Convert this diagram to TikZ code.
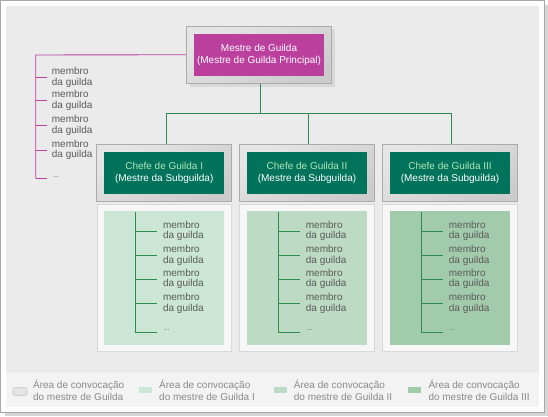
\documentclass[tikz,border=0pt]{standalone}
\usepackage{fontspec}
\setmainfont{Liberation Sans}
\usetikzlibrary{calc}
\definecolor{frameC}{HTML}{A8A8A8}
\definecolor{frameSh}{HTML}{D6D6D6}
\definecolor{bgC}{HTML}{EBEBEB}
\definecolor{legC}{HTML}{F3F3F3}
\definecolor{magC}{HTML}{BB409E}
\definecolor{dgreen}{HTML}{00735A}
\definecolor{lineG}{HTML}{2E8B50}
\definecolor{lgreenT}{HTML}{B4E6B8}
\definecolor{pI}{HTML}{CCE6D5}
\definecolor{pII}{HTML}{BDDBC4}
\definecolor{pIII}{HTML}{A2CBAB}
\definecolor{txtC}{HTML}{5A5A5A}
\definecolor{legT}{HTML}{8A8A8A}
\definecolor{boxBd}{HTML}{ABABAB}
\definecolor{boxSh}{HTML}{D9D9D9}
\begin{document}
\begin{tikzpicture}[x=1pt,y=-1pt,
  font=\fontsize{10}{11.5}\selectfont,
  grayouter/.style={draw=boxBd, line width=0.8pt, top color=white!90!black, bottom color=white!80!black, shading angle=30, inner sep=0},
  topinner/.style={fill=magC, text=white, align=center, minimum width=130, minimum height=42, inner sep=0},
  chiefinner/.style={fill=dgreen, text=white, align=center, minimum width=120, minimum height=41.7, inner sep=0, font=\fontsize{10}{12}\selectfont},
  panelouter/.style={fill=white!97!black, draw=white!85!black, line width=0.6pt, minimum width=134.6, minimum height=147.4, inner sep=0},
  panelinner/.style={minimum width=120, minimum height=134, inner sep=0},
  memtext/.style={anchor=west, align=left, inner sep=0, text=txtC, font=\fontsize{10}{10.6}\selectfont},
  dots/.style={anchor=west, inner sep=0, text=txtC, font=\fontsize{7}{8}\selectfont},
  magline/.style={draw=magC, line width=0.9pt},
  grline/.style={draw=lineG, line width=0.9pt},
  legtext/.style={anchor=west, align=left, inner sep=0, text=legT, font=\fontsize{10}{11.7}\selectfont},
  swatch/.style={inner sep=0, minimum width=12.7, minimum height=5.4}
]
\useasboundingbox (0,0) rectangle (548,416);
\fill[white] (0,0) rectangle (548,416);
% frame
\fill[frameSh] (5,5) rectangle (548,416);
\filldraw[fill=white, draw=frameC, line width=1pt] (0.5,0.5) rectangle (544.5,412.5);
\fill[bgC] (6,6) rectangle (539,373);
\fill[legC] (6,373) rectangle (539,407);

% top box
\fill[boxSh] (189.5,29) rectangle (334.7,86.8);
\node[grayouter, minimum width=145, minimum height=57.3] (topouter) at (258.9,54.7) {};
\node[topinner] (top) at (259,55) {Mestre de Guilda\\(Mestre de Guilda Principal)};

% chief boxes
\foreach \k/\cx/\name in {1/164.1/I, 2/306.9/II, 3/449.9/III}{
  \node[grayouter, minimum width=134.6, minimum height=57.7] (c\k o) at (\cx,172.9) {};
  \node[chiefinner] (c\k) at (\cx+0.1,172.8) {\textcolor{lgreenT}{Chefe de Guilda \name}\\(Mestre da Subguilda)};
}

% connectors green
\coordinate (bar) at (260.4,113.3);
\draw[grline] ([xshift=1.5pt]topouter.south) -- ([xshift=1.5pt]topouter.south |- bar);
\draw[grline] ([xshift=2.3pt]c1o.north) -- ([xshift=2.3pt]c1o.north |- bar) -- ([xshift=1.3pt]c3o.north |- bar) -- ([xshift=1.3pt]c3o.north);
\draw[grline] ([xshift=1.4pt]c2o.north) -- ([xshift=1.4pt]c2o.north |- bar);

% left magenta tree
\coordinate (lv) at (35.7,55);
\coordinate (lb) at (35.7,178.3);
\draw[magline] (topouter.west) -- (lv) -- (lb);
\foreach \j/\ty in {1/77.3, 2/100.7, 3/125.3, 4/150}{
  \node[memtext] (lm\j) at (51.7,\ty) {membro\\da guilda};
  \draw[magline] (lv |- lm\j.west) -- ([xshift=-5.2pt]lm\j.west);
}
\node[dots] (lm5) at (53,177) {...};
\draw[magline] (lb) -- ([xshift=-6.5pt]lm5.west |- lb);

% panels
\foreach \k/\cx/\col in {1/164.1/pI, 2/306.9/pII, 3/449.9/pIII}{
  \node[panelouter] (p\k o) at (\cx,278) {};
  \node[panelinner, fill=\col] (p\k) at (\cx+0.1,278) {};
  \coordinate (v\k) at ($(p\k.north west)+(31.2,1.3)$);
  \coordinate (w\k) at ($(p\k.north west)+(31.2,121.7)$);
  \draw[grline] (v\k) -- (w\k);
  \foreach \j/\dy in {1/20.3, 2/44.7, 3/68.3, 4/92.7}{
    \node[memtext] (m\k\j) at ($(p\k.north west)+(58.9,\dy)$) {membro\\da guilda};
    \draw[grline] (v\k |- m\k\j.west) -- ([xshift=-6pt]m\k\j.west);
  }
  \node[dots] (m\k5) at ($(p\k.north west)+(59.5,119.7)$) {...};
  \draw[grline] (w\k) -- ++(21.7,0);
}

% legend
\node[inner sep=0, minimum width=14, minimum height=7.5, rounded corners=2pt, fill=white!90!black, draw=white!75!black, line width=0.6pt] (s0) at (20,391.5) {};
\node[legtext] (l0) at (32.9,390.2) {Área de convocação\\do mestre de Guilda};
\node[swatch, fill=pI] (s1) at (145.3,390) {};
\node[legtext] (l1) at (159,390.2) {Área de convocação\\do mestre de Guilda I};
\node[swatch, fill=pII] (s2) at (280.3,390) {};
\node[legtext] (l2) at (293.7,390.2) {Área de convocação\\do mestre de Guilda II};
\node[swatch, fill=pIII] (s3) at (414.7,390) {};
\node[legtext] (l3) at (428.3,390.2) {Área de convocação\\do mestre de Guilda III};
\end{tikzpicture}
\end{document}
